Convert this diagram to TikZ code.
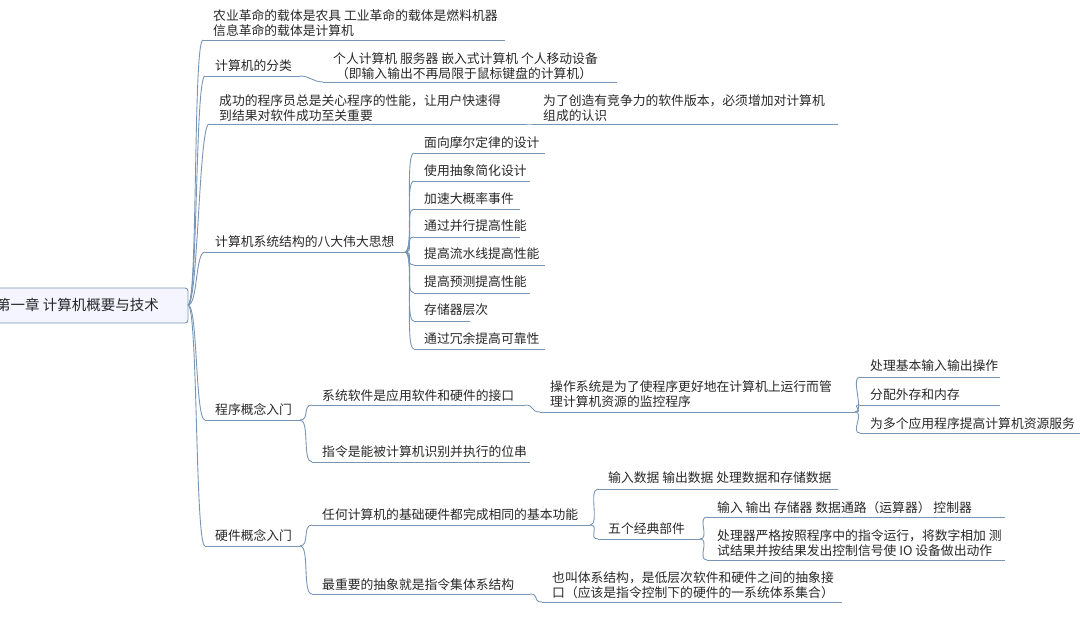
\documentclass[tikz,border=0pt]{standalone}
\usepackage{fontspec}
\newfontfamily\cjk{Noto Sans CJK SC}
\definecolor{lnc}{RGB}{120,150,180}
\definecolor{txc}{RGB}{40,40,40}
\tikzset{ln/.style={draw=lnc,line width=0.9pt},
txt/.style={inner sep=0pt,text=txc,font=\cjk\fontsize{12.8}{15}\selectfont,align=left,anchor=north west}}
\newcommand\mtopic[6]{\node[txt] (#1) at (#2,{#3-7}) {#6};
\coordinate (#1s) at ({#2-10},#5); \coordinate (#1e) at (#4,#5);
\draw[ln] (#1s)--(#1e);}
\newcommand\mcon[2]{\draw[ln] (#1e) .. controls +(10,0) and +(-10,0) .. (#2s);}
\begin{document}
\begin{tikzpicture}[x=1pt,y=-1pt]
\useasboundingbox (0,0) rectangle (1080,617);
\draw[draw=lnc,fill=blue!4,rounded corners=3pt,line width=0.9pt] (-10,288) rectangle (188,323);
\node[inner sep=0pt,anchor=west,text=txc,font=\cjk\fontsize{14.5}{16}\selectfont] (root) at (-4,305) {第一章 计算机概要与技术};
\coordinate (roote) at (188,305);
\mtopic{a}{213}{16}{505}{40}{农业革命的载体是农具 工业革命的载体是燃料机器\\信息革命的载体是计算机}
\mtopic{b}{215}{66}{300}{76}{计算机的分类}
\mtopic{b1}{333}{59}{617}{82}{个人计算机 服务器 嵌入式计算机 个人移动设备\\\ （即输入输出不再局限于鼠标键盘的计算机）}
\mtopic{c}{219}{101}{525}{124}{成功的程序员总是关心程序的性能，让用户快速得\\到结果对软件成功至关重要}
\mtopic{c1}{543}{101}{838}{124}{为了创造有竞争力的软件版本，必须增加对计算机\\组成的认识}
\mtopic{d}{215}{242}{405}{252}{计算机系统结构的八大伟大思想}
\mtopic{d1}{424}{143}{545}{153}{面向摩尔定律的设计}
\mtopic{d2}{424}{171}{530}{181}{使用抽象简化设计}
\mtopic{d3}{424}{199}{520}{209}{加速大概率事件}
\mtopic{d4}{424}{227}{520}{237}{通过并行提高性能}
\mtopic{d5}{424}{255}{545}{265}{提高流水线提高性能}
\mtopic{d6}{424}{283}{530}{293}{提高预测提高性能}
\mtopic{d7}{424}{311}{470}{321}{存储器层次}
\mtopic{d8}{424}{339}{545}{349}{通过冗余提高可靠性}
\mtopic{e}{215}{410}{300}{420}{程序概念入门}
\mtopic{e1}{322}{396}{525}{405}{系统软件是应用软件和硬件的接口}
\mtopic{e11}{550}{387}{855}{412}{操作系统是为了使程序更好地在计算机上运行而管\\理计算机资源的监控程序}
\mtopic{e111}{870}{367}{1000}{377}{处理基本输入输出操作}
\mtopic{e112}{870}{396}{1000}{405}{分配外存和内存}
\mtopic{e113}{870}{424}{1080}{433}{为多个应用程序提高计算机资源服务}
\mtopic{e2}{322}{452}{530}{462}{指令是能被计算机识别并执行的位串}
\mtopic{f}{215}{536}{300}{546}{硬件概念入门}
\mtopic{f1}{322}{515}{590}{525}{任何计算机的基础硬件都完成相同的基本功能}
\mtopic{f11}{608}{479}{838}{489}{输入数据 输出数据 处理数据和存储数据}
\mtopic{f12}{608}{529}{700}{539}{五个经典部件}
\mtopic{f121}{717}{508}{1005}{517}{输入 输出 存储器 数据通路（运算器） 控制器}
\mtopic{f122}{717}{536}{1005}{560}{处理器严格按照程序中的指令运行，将数字相加 测\\试结果并按结果发出控制信号使 IO 设备做出动作}
\mtopic{f2}{322}{585}{530}{594}{最重要的抽象就是指令集体系结构}
\mtopic{f21}{552}{578}{842}{602}{也叫体系结构，是低层次软件和硬件之间的抽象接\\口（应该是指令控制下的硬件的一系统体系集合）}
\foreach \c in {a,b,c,d,e,f} {\mcon{root}{\c}}
\mcon{b}{b1}\mcon{c}{c1}
\foreach \c in {1,...,8} {\mcon{d}{d\c}}
\mcon{e}{e1}\mcon{e}{e2}\mcon{e1}{e11}
\mcon{e11}{e111}\mcon{e11}{e112}\mcon{e11}{e113}
\mcon{f}{f1}\mcon{f}{f2}\mcon{f1}{f11}\mcon{f1}{f12}
\mcon{f12}{f121}\mcon{f12}{f122}\mcon{f2}{f21}
\end{tikzpicture}
\end{document}
